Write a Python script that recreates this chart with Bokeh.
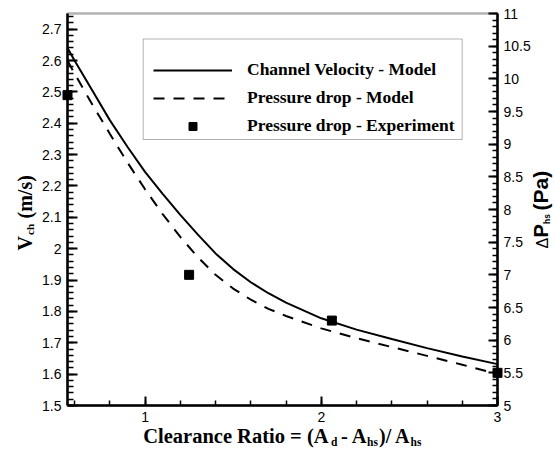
from math import pi
from bokeh.plotting import figure
from bokeh.models import (Range1d, LinearAxis, SingleIntervalTicker, CustomJSTickFormatter,
                          Legend, LegendItem, Label, BoxAnnotation)
from bokeh.embed import file_html
from bokeh.resources import INLINE

# ---------------- data ----------------
ratio_model = [0.56, 0.6, 0.7, 0.8, 0.9, 1.0, 1.1, 1.2, 1.3, 1.4, 1.5, 1.6, 1.7, 1.8,
               2.0, 2.2, 2.4, 2.6, 2.8, 3.0]
velocity_model = [2.64, 2.60, 2.505, 2.41, 2.325, 2.245, 2.175, 2.108, 2.045, 1.985,
                  1.935, 1.893, 1.858, 1.828, 1.778, 1.742, 1.712, 1.683, 1.656, 1.632]
pressure_model = [10.28, 10.08, 9.61, 9.16, 8.72, 8.31, 7.93, 7.58, 7.27, 7.00,
                  6.79, 6.62, 6.48, 6.37, 6.18, 6.03, 5.895, 5.76, 5.625, 5.48]
ratio_exp = [0.56, 1.25, 2.06, 3.0]
pressure_exp = [9.75, 7.0, 6.30, 5.5]

x_limits = (0.56, 3.0)
v_limits = (1.5, 2.75)
p_limits = (5.0, 11.0)

legend_labels = ["Channel Velocity - Model", "Pressure drop - Model", "Pressure drop - Experiment"]

# ---------------- layout geometry (pixels of the plot box inside the canvas) ----------------
W, H = 555, 449
BL, BR, BT, BB = 67, 497, 13, 405

def lin(px, p0, p1, v0, v1):
    return v0 + (px - p0) / (p1 - p0) * (v1 - v0)

def dx(px):
    return lin(px, BL, BR, x_limits[0], x_limits[1])

def dy(py):
    return lin(py, BB, BT, v_limits[0], v_limits[1])

def dp(py):
    return lin(py, BB, BT, p_limits[0], p_limits[1])

# the frame covers the whole canvas; the axes sit at fixed locations around the plot box
p = figure(width=W, height=H, output_backend="svg", toolbar_location=None, title=None,
           x_range=Range1d(dx(0), dx(W)), y_range=Range1d(dy(H), dy(0)),
           x_axis_location=None, y_axis_location=None,
           min_border=0, min_border_left=0, min_border_right=0, min_border_top=0, min_border_bottom=0,
           background_fill_color="white", border_fill_color="white")
p.extra_y_ranges = {"pressure": Range1d(dp(H), dp(0))}
p.grid.visible = False
p.outline_line_alpha = 0

fmt = CustomJSTickFormatter(code="return String(Math.round(tick*100)/100);")

def make_axis(major_in, minor_in, interval, **kw):
    ax = LinearAxis(**kw)
    ax.ticker = SingleIntervalTicker(interval=interval, num_minor_ticks=5)
    ax.formatter = fmt
    ax.major_tick_in = major_in
    ax.major_tick_out = 0
    ax.minor_tick_in = minor_in
    ax.minor_tick_out = 0
    ax.axis_line_color = "black"
    ax.axis_line_width = 2.5
    ax.major_tick_line_color = "black"
    ax.major_tick_line_width = 2
    ax.minor_tick_line_color = "black"
    ax.minor_tick_line_width = 1.5
    ax.major_label_text_font = "Liberation Sans"
    ax.major_label_text_font_size = "14px"
    ax.major_label_text_color = "black"
    ax.major_label_standoff = 6
    return ax

xa = make_axis(9, 5, 1, fixed_location=v_limits[0], bounds=x_limits)
ya = make_axis(10, 6, 0.1, fixed_location=x_limits[0], bounds=v_limits)
ra = make_axis(9, 5, 0.5, fixed_location=x_limits[1], bounds=p_limits, y_range_name="pressure")
p.add_layout(xa, "below")
p.add_layout(ya, "left")
p.add_layout(ra, "right")

# plot box (top and right edges)
p.add_layout(BoxAnnotation(left=x_limits[0], right=x_limits[1], bottom=v_limits[0], top=v_limits[1],
                           fill_alpha=0, line_color="black", line_width=2.5, level="underlay"))

# ---------------- data renderers ----------------
r_vel = p.line(ratio_model, velocity_model, line_color="black", line_width=2)
r_pm = p.line(ratio_model, pressure_model, line_color="black", line_width=2,
              line_dash="11 9", y_range_name="pressure")
r_pe = p.scatter(ratio_exp, pressure_exp, marker="square", size=9, fill_color="black",
                 line_color="black", y_range_name="pressure")

# legend frame
p.add_layout(BoxAnnotation(left=dx(142.7), right=dx(461.7), top=dy(38.5), bottom=dy(139),
                           fill_alpha=0, line_color="black", line_width=1))

legend = Legend(items=[LegendItem(label=legend_labels[0], renderers=[r_vel]),
                       LegendItem(label=legend_labels[1], renderers=[r_pm]),
                       LegendItem(label=legend_labels[2], renderers=[r_pe])],
                location=(153, H - 136), padding=0, margin=0, spacing=7,
                glyph_width=79, glyph_height=20, label_height=20, label_standoff=15,
                label_text_font="Liberation Serif", label_text_font_style="bold",
                label_text_font_size="17.5px", label_text_color="black",
                border_line_alpha=0, background_fill_alpha=0)
p.add_layout(legend)

def add_text(text, px, py, size, font="Liberation Serif", style="bold", angle=0.0):
    p.add_layout(Label(x=dx(px), y=dy(py), text=text, text_font=font, text_font_style=style,
                       text_font_size=size, text_color="black", text_baseline="alphabetic",
                       text_align="left", angle=angle))

# x axis title: Clearance Ratio = (A_d - A_hs)/ A_hs
add_text("Clearance Ratio = (A", 142.7, 435.3, "20.5px")
add_text("d", 330.5, 441.8, "11.5px")
add_text("- A", 340.5, 435.3, "20.5px")
add_text("hs", 366.5, 441.8, "11.5px")
add_text(")/ A", 378.5, 435.3, "20px")
add_text("hs", 410, 441.8, "11.5px")

# left y axis title: V_ch (m/s)
add_text("V", 24.4, 250, "20px", angle=pi / 2)
add_text("ch", 29.8, 234.5, "11px", angle=pi / 2)
add_text("(m/s)", 24.4, 218, "20px", angle=pi / 2)

# right y axis title: ΔP_hs (Pa)
add_text("\u0394", 541.7, 248, "16px", font="Liberation Sans", style="normal", angle=pi / 2)
add_text("P", 540.6, 237, "20px", font="Liberation Sans", angle=pi / 2)
add_text("hs", 546.3, 223.5, "8.5px", font="Liberation Sans", angle=pi / 2)
add_text("(Pa)", 540.3, 210, "21px", font="Liberation Sans", angle=pi / 2)

open("out.html", "w").write(file_html(p, INLINE))
